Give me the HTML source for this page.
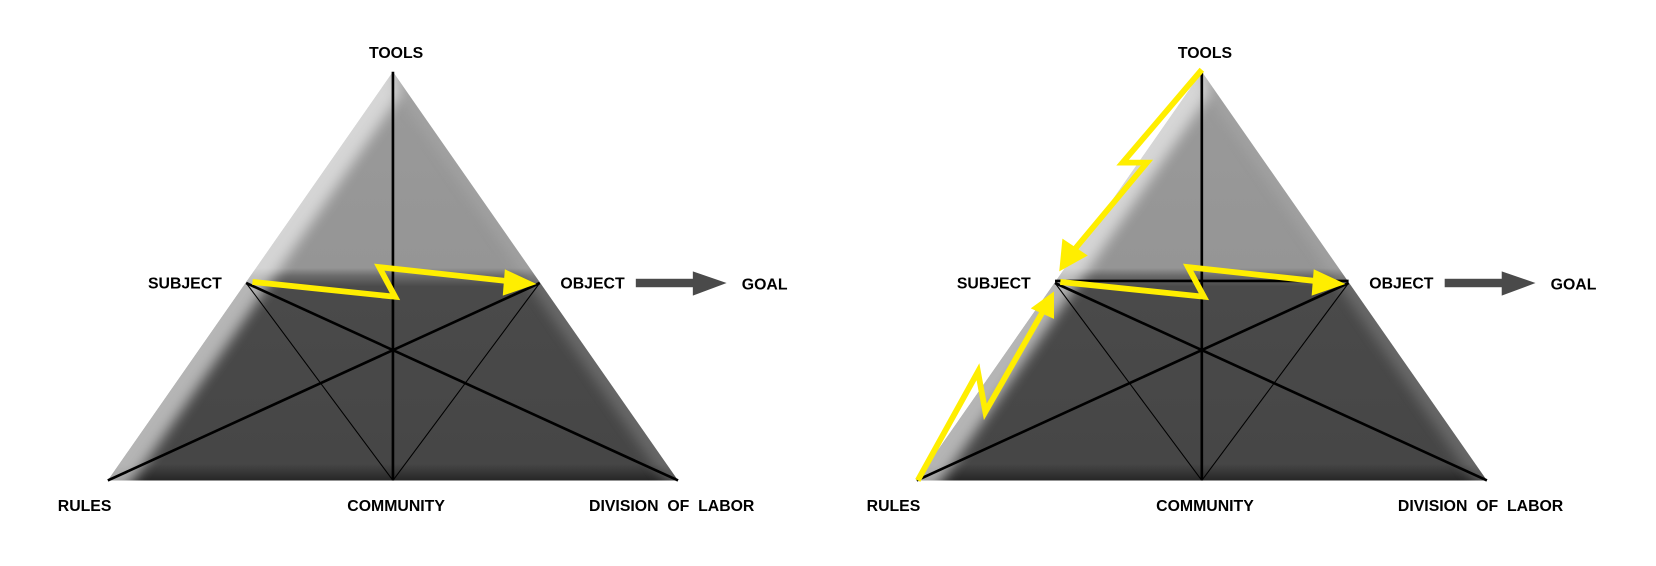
<!DOCTYPE html>
<html><head><meta charset="utf-8"><style>
html,body{margin:0;padding:0;background:#fff;}
svg{display:block;}
text{font-family:"Liberation Sans",Arial,sans-serif;font-weight:bold;font-size:15px;fill:#000;}
</style></head><body>
<svg width="1656" height="566" viewBox="0 0 1568 536" xmlns="http://www.w3.org/2000/svg">
<defs>
  <linearGradient id="vert" x1="0" y1="0" x2="0" y2="1" gradientUnits="objectBoundingBox">
    <stop offset="0" stop-color="#9a9a9a"/>
    <stop offset="0.48" stop-color="#959595"/>
    <stop offset="0.50" stop-color="#6a6a6a"/>
    <stop offset="0.525" stop-color="#4a4a4a"/>
    <stop offset="0.96" stop-color="#464646"/>
    <stop offset="1" stop-color="#262626"/>
  </linearGradient>
  <clipPath id="cl"><polygon points="0,-200 -270,187 270,187"/></clipPath>
  <filter id="bl" x="-20%" y="-20%" width="140%" height="140%"><feGaussianBlur stdDeviation="6"/></filter>
  <g id="tri">
    <polygon points="0,-200 -270,187 270,187" fill="url(#vert)"/>
    <g clip-path="url(#cl)">
      <polygon points="0,-230 -300,200 -255,200 8,-180" fill="#fff" opacity="0.6" filter="url(#bl)"/>
      <polygon points="0,-210 290,200 266,200 -2,-190" fill="#bbb" opacity="0.3" filter="url(#bl)"/>
    </g>
    <line x1="0" y1="-200" x2="0" y2="187" stroke="#000" stroke-width="2.5"/>
    <line x1="-139" y1="0" x2="270" y2="187" stroke="#000" stroke-width="2.5"/>
    <line x1="139" y1="0" x2="-270" y2="187" stroke="#000" stroke-width="2.5"/>
    <line x1="-139" y1="0" x2="0" y2="187" stroke="#000" stroke-width="1"/>
    <line x1="139" y1="0" x2="0" y2="187" stroke="#000" stroke-width="1"/>
  </g>
</defs>

<!-- Left diagram -->
<use href="#tri" transform="translate(372,268)"/>
<polyline points="239,267 374,281 359,253 488,267" fill="none" stroke="#ffee00" stroke-width="5.5"/>
<polygon points="508,269 478,255 476,280" fill="#ffee00"/>
<rect x="602" y="264" width="56" height="8" fill="#4a4a4a"/>
<polygon points="656,257 688,268 656,280" fill="#4a4a4a"/>
<text x="375" y="55" text-anchor="middle">TOOLS</text>
<text x="175" y="273" text-anchor="middle">SUBJECT</text>
<text x="561" y="273" text-anchor="middle">OBJECT</text>
<text x="724" y="274" text-anchor="middle">GOAL</text>
<text x="80" y="484" text-anchor="middle">RULES</text>
<text x="375" y="484" text-anchor="middle">COMMUNITY</text>
<text x="636" y="484" text-anchor="middle">DIVISION&#160; OF&#160; LABOR</text>

<!-- Right diagram -->
<use href="#tri" transform="translate(1138,268)"/>
<line x1="999" y1="266" x2="1277" y2="266" stroke="#000" stroke-width="2.5"/>
<polyline points="1004,267 1140,281 1125,253 1254,267" fill="none" stroke="#ffee00" stroke-width="5.5"/>
<polygon points="1274,269 1244,255 1242,280" fill="#ffee00"/>
<polyline points="1138,66 1063,154 1086,154 1016,238" fill="none" stroke="#ffee00" stroke-width="5.5"/>
<polygon points="1003,257 1006,226 1030,242" fill="#ffee00"/>
<polyline points="869,455 926,352 933,390 988,294" fill="none" stroke="#ffee00" stroke-width="5.5"/>
<polygon points="998,276 976,292 998,302" fill="#ffee00"/>
<rect x="1368" y="264" width="56" height="8" fill="#4a4a4a"/>
<polygon points="1422,257 1454,268 1422,280" fill="#4a4a4a"/>
<text x="1141" y="55" text-anchor="middle">TOOLS</text>
<text x="941" y="273" text-anchor="middle">SUBJECT</text>
<text x="1327" y="273" text-anchor="middle">OBJECT</text>
<text x="1490" y="274" text-anchor="middle">GOAL</text>
<text x="846" y="484" text-anchor="middle">RULES</text>
<text x="1141" y="484" text-anchor="middle">COMMUNITY</text>
<text x="1402" y="484" text-anchor="middle">DIVISION&#160; OF&#160; LABOR</text>
</svg>
</body></html>
